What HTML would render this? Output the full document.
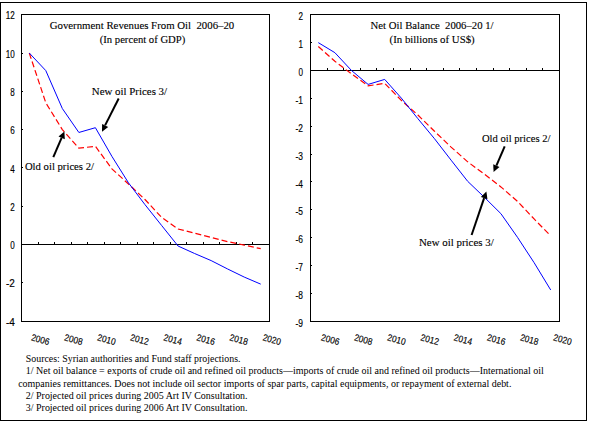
<!DOCTYPE html>
<html><head><meta charset="utf-8"><style>
html,body{margin:0;padding:0;background:#fff;width:592px;height:426px;overflow:hidden}
svg{display:block}
</style></head><body>
<svg width="592" height="426" viewBox="0 0 592 426">
<rect width="592" height="426" fill="#fff"/>
<rect x="0.5" y="2.5" width="586" height="418" fill="none" stroke="#000" stroke-width="1"/>
<rect x="21.5" y="14.5" width="248" height="307" fill="none" stroke="#000" stroke-width="1"/>
<rect x="310.5" y="14.5" width="249" height="307" fill="none" stroke="#000" stroke-width="1"/>
<line x1="21" y1="244.5" x2="269" y2="244.5" stroke="#000" stroke-width="1"/>
<line x1="310" y1="70.5" x2="559" y2="70.5" stroke="#000" stroke-width="1"/>
<path d="M38.5 242V244 M327.5 68V70 M54.5 242V244 M343.5 68V70 M71.5 242V244 M360.5 68V70 M87.5 242V244 M376.5 68V70 M104.5 242V244 M393.5 68V70 M120.5 242V244 M410.5 68V70 M137.5 242V244 M426.5 68V70 M153.5 242V244 M443.5 68V70 M170.5 242V244 M459.5 68V70 M186.5 242V244 M476.5 68V70 M203.5 242V244 M493.5 68V70 M219.5 242V244 M509.5 68V70 M236.5 242V244 M526.5 68V70 M252.5 242V244 M542.5 68V70 M21 282.5H23 M21 244.5H23 M21 206.5H23 M21 167.5H23 M21 129.5H23 M21 91.5H23 M21 53.5H23 M310 293.5H312 M310 265.5H312 M310 237.5H312 M310 209.5H312 M310 181.5H312 M310 154.5H312 M310 126.5H312 M310 98.5H312 M310 70.5H312 M310 42.5H312" stroke="#000" stroke-width="1" fill="none"/>
<text x="5.9" y="325.7" font-family='"Liberation Sans", sans-serif' font-size="10" textLength="8.9" lengthAdjust="spacingAndGlyphs" stroke="#000" stroke-width="0.15">-4</text>
<text x="5.9" y="287.4" font-family='"Liberation Sans", sans-serif' font-size="10" textLength="8.9" lengthAdjust="spacingAndGlyphs" stroke="#000" stroke-width="0.15">-2</text>
<text x="10.3" y="249.1" font-family='"Liberation Sans", sans-serif' font-size="10" textLength="4.5" lengthAdjust="spacingAndGlyphs" stroke="#000" stroke-width="0.15">0</text>
<text x="10.3" y="210.8" font-family='"Liberation Sans", sans-serif' font-size="10" textLength="4.5" lengthAdjust="spacingAndGlyphs" stroke="#000" stroke-width="0.15">2</text>
<text x="10.3" y="172.5" font-family='"Liberation Sans", sans-serif' font-size="10" textLength="4.5" lengthAdjust="spacingAndGlyphs" stroke="#000" stroke-width="0.15">4</text>
<text x="10.3" y="134.2" font-family='"Liberation Sans", sans-serif' font-size="10" textLength="4.5" lengthAdjust="spacingAndGlyphs" stroke="#000" stroke-width="0.15">6</text>
<text x="10.3" y="95.9" font-family='"Liberation Sans", sans-serif' font-size="10" textLength="4.5" lengthAdjust="spacingAndGlyphs" stroke="#000" stroke-width="0.15">8</text>
<text x="5.8" y="57.6" font-family='"Liberation Sans", sans-serif' font-size="10" textLength="9.0" lengthAdjust="spacingAndGlyphs" stroke="#000" stroke-width="0.15">10</text>
<text x="5.8" y="19.3" font-family='"Liberation Sans", sans-serif' font-size="10" textLength="9.0" lengthAdjust="spacingAndGlyphs" stroke="#000" stroke-width="0.15">12</text>
<text x="295.4" y="326.8" font-family='"Liberation Sans", sans-serif' font-size="10" textLength="7.5" lengthAdjust="spacingAndGlyphs" stroke="#000" stroke-width="0.15">-9</text>
<text x="295.4" y="298.9" font-family='"Liberation Sans", sans-serif' font-size="10" textLength="7.5" lengthAdjust="spacingAndGlyphs" stroke="#000" stroke-width="0.15">-8</text>
<text x="295.4" y="271.1" font-family='"Liberation Sans", sans-serif' font-size="10" textLength="7.5" lengthAdjust="spacingAndGlyphs" stroke="#000" stroke-width="0.15">-7</text>
<text x="295.4" y="243.2" font-family='"Liberation Sans", sans-serif' font-size="10" textLength="7.5" lengthAdjust="spacingAndGlyphs" stroke="#000" stroke-width="0.15">-6</text>
<text x="295.4" y="215.3" font-family='"Liberation Sans", sans-serif' font-size="10" textLength="7.5" lengthAdjust="spacingAndGlyphs" stroke="#000" stroke-width="0.15">-5</text>
<text x="295.4" y="187.5" font-family='"Liberation Sans", sans-serif' font-size="10" textLength="7.5" lengthAdjust="spacingAndGlyphs" stroke="#000" stroke-width="0.15">-4</text>
<text x="295.4" y="159.7" font-family='"Liberation Sans", sans-serif' font-size="10" textLength="7.5" lengthAdjust="spacingAndGlyphs" stroke="#000" stroke-width="0.15">-3</text>
<text x="295.4" y="131.8" font-family='"Liberation Sans", sans-serif' font-size="10" textLength="7.5" lengthAdjust="spacingAndGlyphs" stroke="#000" stroke-width="0.15">-2</text>
<text x="295.4" y="103.9" font-family='"Liberation Sans", sans-serif' font-size="10" textLength="7.5" lengthAdjust="spacingAndGlyphs" stroke="#000" stroke-width="0.15">-1</text>
<text x="298.4" y="76.1" font-family='"Liberation Sans", sans-serif' font-size="10" textLength="4.5" lengthAdjust="spacingAndGlyphs" stroke="#000" stroke-width="0.15">0</text>
<text x="298.4" y="48.2" font-family='"Liberation Sans", sans-serif' font-size="10" textLength="4.5" lengthAdjust="spacingAndGlyphs" stroke="#000" stroke-width="0.15">1</text>
<text x="298.4" y="20.4" font-family='"Liberation Sans", sans-serif' font-size="10" textLength="4.5" lengthAdjust="spacingAndGlyphs" stroke="#000" stroke-width="0.15">2</text>
<text x="40.5" y="342.9" text-anchor="middle" font-family='"Liberation Sans", sans-serif' font-size="9.5" textLength="18.6" lengthAdjust="spacingAndGlyphs" stroke="#000" stroke-width="0.15" transform="rotate(15 40.5 339.5)">2006</text>
<text x="330.3" y="342.9" text-anchor="middle" font-family='"Liberation Sans", sans-serif' font-size="9.5" textLength="18.6" lengthAdjust="spacingAndGlyphs" stroke="#000" stroke-width="0.15" transform="rotate(15 330.3 339.5)">2006</text>
<text x="73.6" y="342.9" text-anchor="middle" font-family='"Liberation Sans", sans-serif' font-size="9.5" textLength="18.6" lengthAdjust="spacingAndGlyphs" stroke="#000" stroke-width="0.15" transform="rotate(15 73.6 339.5)">2008</text>
<text x="363.5" y="342.9" text-anchor="middle" font-family='"Liberation Sans", sans-serif' font-size="9.5" textLength="18.6" lengthAdjust="spacingAndGlyphs" stroke="#000" stroke-width="0.15" transform="rotate(15 363.5 339.5)">2008</text>
<text x="106.6" y="342.9" text-anchor="middle" font-family='"Liberation Sans", sans-serif' font-size="9.5" textLength="18.6" lengthAdjust="spacingAndGlyphs" stroke="#000" stroke-width="0.15" transform="rotate(15 106.6 339.5)">2010</text>
<text x="396.7" y="342.9" text-anchor="middle" font-family='"Liberation Sans", sans-serif' font-size="9.5" textLength="18.6" lengthAdjust="spacingAndGlyphs" stroke="#000" stroke-width="0.15" transform="rotate(15 396.7 339.5)">2010</text>
<text x="139.7" y="342.9" text-anchor="middle" font-family='"Liberation Sans", sans-serif' font-size="9.5" textLength="18.6" lengthAdjust="spacingAndGlyphs" stroke="#000" stroke-width="0.15" transform="rotate(15 139.7 339.5)">2012</text>
<text x="429.9" y="342.9" text-anchor="middle" font-family='"Liberation Sans", sans-serif' font-size="9.5" textLength="18.6" lengthAdjust="spacingAndGlyphs" stroke="#000" stroke-width="0.15" transform="rotate(15 429.9 339.5)">2012</text>
<text x="172.8" y="342.9" text-anchor="middle" font-family='"Liberation Sans", sans-serif' font-size="9.5" textLength="18.6" lengthAdjust="spacingAndGlyphs" stroke="#000" stroke-width="0.15" transform="rotate(15 172.8 339.5)">2014</text>
<text x="463.1" y="342.9" text-anchor="middle" font-family='"Liberation Sans", sans-serif' font-size="9.5" textLength="18.6" lengthAdjust="spacingAndGlyphs" stroke="#000" stroke-width="0.15" transform="rotate(15 463.1 339.5)">2014</text>
<text x="205.8" y="342.9" text-anchor="middle" font-family='"Liberation Sans", sans-serif' font-size="9.5" textLength="18.6" lengthAdjust="spacingAndGlyphs" stroke="#000" stroke-width="0.15" transform="rotate(15 205.8 339.5)">2016</text>
<text x="496.3" y="342.9" text-anchor="middle" font-family='"Liberation Sans", sans-serif' font-size="9.5" textLength="18.6" lengthAdjust="spacingAndGlyphs" stroke="#000" stroke-width="0.15" transform="rotate(15 496.3 339.5)">2016</text>
<text x="238.9" y="342.9" text-anchor="middle" font-family='"Liberation Sans", sans-serif' font-size="9.5" textLength="18.6" lengthAdjust="spacingAndGlyphs" stroke="#000" stroke-width="0.15" transform="rotate(15 238.9 339.5)">2018</text>
<text x="529.5" y="342.9" text-anchor="middle" font-family='"Liberation Sans", sans-serif' font-size="9.5" textLength="18.6" lengthAdjust="spacingAndGlyphs" stroke="#000" stroke-width="0.15" transform="rotate(15 529.5 339.5)">2018</text>
<text x="272.0" y="342.9" text-anchor="middle" font-family='"Liberation Sans", sans-serif' font-size="9.5" textLength="18.6" lengthAdjust="spacingAndGlyphs" stroke="#000" stroke-width="0.15" transform="rotate(15 272.0 339.5)">2020</text>
<text x="562.7" y="342.9" text-anchor="middle" font-family='"Liberation Sans", sans-serif' font-size="9.5" textLength="18.6" lengthAdjust="spacingAndGlyphs" stroke="#000" stroke-width="0.15" transform="rotate(15 562.7 339.5)">2020</text>
<polyline points="29.27,53.00 45.80,102.79 62.33,129.60 78.87,148.18 95.40,146.26 111.93,168.86 128.47,183.99 145.00,199.50 161.53,217.31 178.07,228.99 194.60,233.20 211.13,237.41 227.67,241.63 244.20,245.07 260.73,248.71" fill="none" stroke="#ff0000" stroke-width="1.2" stroke-dasharray="6 3"/>
<polyline points="29.27,53.00 45.80,70.62 62.33,108.54 78.87,132.47 95.40,127.69 111.93,156.41 128.47,182.84 145.00,204.67 161.53,225.35 178.07,246.03 194.60,253.50 211.13,260.59 227.67,269.01 244.20,277.06 260.73,284.14" fill="none" stroke="#0000ff" stroke-width="1"/>
<polyline points="318.30,46.55 334.90,61.31 351.50,73.84 368.10,85.82 384.70,83.31 401.30,100.30 417.90,115.06 434.50,131.21 451.10,147.09 467.70,161.85 484.30,174.10 500.90,186.91 517.50,201.40 534.10,218.94 550.70,235.93" fill="none" stroke="#ff0000" stroke-width="1.2" stroke-dasharray="6 3"/>
<polyline points="318.30,42.65 334.90,52.68 351.50,70.50 368.10,84.42 384.70,79.41 401.30,98.07 417.90,118.68 434.50,138.73 451.10,160.18 467.70,181.34 484.30,197.22 500.90,213.65 517.50,237.32 534.10,262.67 550.70,289.96" fill="none" stroke="#0000ff" stroke-width="1"/>
<text x="49.7" y="28.5" font-family='"Liberation Serif", serif' font-size="11.2" textLength="184.6" lengthAdjust="spacingAndGlyphs" stroke="#000" stroke-width="0.12">Government Revenues From Oil&#160; 2006–20</text>
<text x="99.7" y="43.0" font-family='"Liberation Serif", serif' font-size="11.2" textLength="85.6" lengthAdjust="spacingAndGlyphs" stroke="#000" stroke-width="0.12">(In percent of GDP)</text>
<text x="370.6" y="28.7" font-family='"Liberation Serif", serif' font-size="11.2" textLength="123.0" lengthAdjust="spacingAndGlyphs" stroke="#000" stroke-width="0.12">Net Oil Balance&#160; 2006–20 1/</text>
<text x="389.6" y="42.5" font-family='"Liberation Serif", serif' font-size="11.2" textLength="85.1" lengthAdjust="spacingAndGlyphs" stroke="#000" stroke-width="0.12">(In billions of US$)</text>
<text x="91.8" y="95.2" font-family='"Liberation Serif", serif' font-size="11" textLength="75.3" lengthAdjust="spacingAndGlyphs" stroke="#000" stroke-width="0.12">New oil Prices 3/</text>
<text x="24.9" y="170.2" font-family='"Liberation Serif", serif' font-size="11" textLength="69.1" lengthAdjust="spacingAndGlyphs" stroke="#000" stroke-width="0.12">Old oil prices 2/</text>
<text x="481.9" y="141.7" font-family='"Liberation Serif", serif' font-size="11" textLength="68.6" lengthAdjust="spacingAndGlyphs" stroke="#000" stroke-width="0.12">Old oil prices 2/</text>
<text x="419.0" y="245.7" font-family='"Liberation Serif", serif' font-size="11" textLength="74.7" lengthAdjust="spacingAndGlyphs" stroke="#000" stroke-width="0.12">New oil prices 3/</text>
<line x1="118.7" y1="98.5" x2="105.1" y2="125.4" stroke="#000" stroke-width="2.0"/>
<polygon points="102.0,131.7 102.1,123.9 108.2,127.0" fill="#000"/>
<line x1="53.3" y1="157.2" x2="61.6" y2="137.8" stroke="#000" stroke-width="2.0"/>
<polygon points="64.4,131.4 64.8,139.2 58.5,136.5" fill="#000"/>
<line x1="504.7" y1="146.3" x2="496.4" y2="165.7" stroke="#000" stroke-width="2.0"/>
<polygon points="493.6,172.1 493.2,164.3 499.5,167.0" fill="#000"/>
<line x1="471.6" y1="235.0" x2="484.1" y2="198.1" stroke="#000" stroke-width="2.0"/>
<polygon points="486.4,191.5 487.4,199.2 480.9,197.0" fill="#000"/>
<text x="25.8" y="362.0" font-family='"Liberation Serif", serif' font-size="10" textLength="214.7" lengthAdjust="spacingAndGlyphs">Sources: Syrian authorities and Fund staff projections.</text>
<text x="25.8" y="374.0" font-family='"Liberation Serif", serif' font-size="10" textLength="518.0" lengthAdjust="spacingAndGlyphs">1/ Net oil balance = exports of crude oil and refined oil products—imports of crude oil and refined oil products—International oil</text>
<text x="18.2" y="386.8" font-family='"Liberation Serif", serif' font-size="10" textLength="493.2" lengthAdjust="spacingAndGlyphs">companies remittances. Does not include oil sector imports of spar parts, capital equipments, or repayment of external debt.</text>
<text x="25.8" y="399.3" font-family='"Liberation Serif", serif' font-size="10" textLength="221.8" lengthAdjust="spacingAndGlyphs">2/ Projected oil prices during 2005 Art IV Consultation.</text>
<text x="25.8" y="411.3" font-family='"Liberation Serif", serif' font-size="10" textLength="221.8" lengthAdjust="spacingAndGlyphs">3/ Projected oil prices during 2006 Art IV Consultation.</text>
</svg>
</body></html>
